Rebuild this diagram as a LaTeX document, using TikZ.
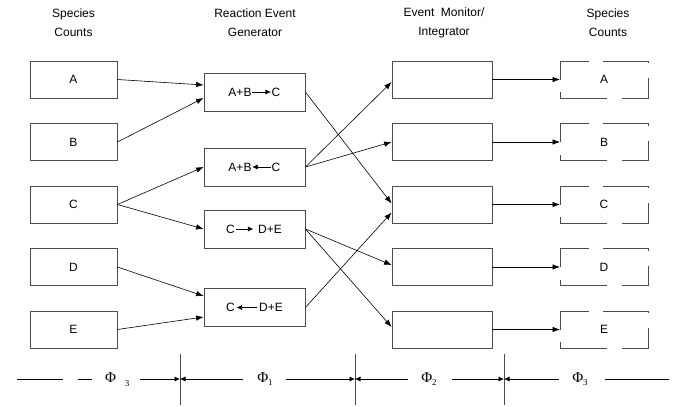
\documentclass[tikz,border=0pt]{standalone}
\usepackage{fontspec}
\setmainfont{Liberation Sans}
\newfontfamily\timesf{Liberation Serif}
\usetikzlibrary{arrows.meta,calc}
\newcommand{\phisym}[1]{{\timesf\fontsize{15}{15}\selectfont Φ\raisebox{-3pt}{\fontsize{9}{9}\selectfont #1}}}
\begin{document}
\begin{tikzpicture}[x=1pt,y=-1pt,
  every node/.style={font=\fontsize{12}{14}\selectfont},
  box/.style={draw=black!70, line width=0.8pt, minimum width=87pt, minimum height=37pt, inner sep=0pt},
  genbox/.style={box, minimum width=101pt, minimum height=38pt},
  monbox/.style={box, minimum width=100pt},
  conn/.style={line width=0.6pt, -{Latex[length=7.5pt,width=5.5pt]}},
  small/.style={line width=0.6pt, -{Latex[length=5.5pt,width=5pt]}},
  head/.style={align=center, font=\fontsize{12}{19}\selectfont},
  dbox/.style={draw=black!70, line width=0.8pt},
  plain/.style={line width=0.6pt},
  vline/.style={draw=black!70, line width=0.8pt},
  txt/.style={inner sep=0.5pt}
]
\useasboundingbox (0,0) rectangle (686,407);

% headers
\node[head] (h1) at (73.5,23) {Species\\Counts};
\node[head] (h2) at (255,23) {Reaction Event\\Generator};
\node[head] (h3) at (444,23) {Event~~Monitor/\\Integrator};
\node[head] (h4) at (608,23) {Species\\Counts};

% left species boxes, monitor boxes, right species boxes
\foreach \y/\l/\n in {79.5/A/1, 142/B/2, 204.5/C/3, 267/D/4, 329.5/E/5}{
  \node[box] (L\n) at (73.5,\y) {\l};
  \node[monbox] (M\n) at (442,\y) {};
  \coordinate (R\n) at (560,\y);
  \node (RT\n) at (604,\y) {\l};
  \draw[dbox] (R\n) -- (560,{\y-18.5}) -- (589,{\y-18.5});
  \draw[dbox] (603,{\y-18.5}) -- (648,{\y-18.5}) -- (648,{\y-16.5});
  \draw[dbox] (648,{\y-1.5}) -- (648,{\y+18.5}) -- (622,{\y+18.5});
  \draw[dbox] (607,{\y+18.5}) -- (560,{\y+18.5}) -- (560,{\y+12.5});
  \draw[conn] (M\n.east) -- (R\n);
}

% generator boxes
\node[genbox] (G1) at (254.5,92) {};
\node[genbox] (G2) at (254.5,167) {};
\node[genbox] (G3) at (254.5,229) {};
\node[genbox] (G4) at (254.5,307.5) {};

% reaction texts
\node[txt] (g1a) at (240,92) {A+B};
\node[txt] (g1b) at (276,92) {C};
\draw[small] (g1a.east) -- (g1b.west);
\node[txt] (g2a) at (240,167) {A+B};
\node[txt] (g2b) at (276,167) {C};
\draw[small] (g2b.west) -- (g2a.east);
\node[txt] (g3a) at (230.5,229) {C};
\node[txt] (g3b) at (270,229) {D+E};
\draw[small] (g3a.east) -- ([xshift=-4pt]g3b.west);
\node[txt] (g4a) at (230.5,307.5) {C};
\node[txt] (g4b) at (271,307.5) {D+E};
\draw[small] ([xshift=-1pt]g4b.west) -- ([xshift=1pt]g4a.east);

% species -> generator
\draw[conn] (L1.east) -- ([yshift=7pt]G1.west);
\draw[conn] (L2.east) -- ([yshift=-6pt]G1.west);
\draw[conn] (L3.east) -- (G2.west);
\draw[conn] (L3.east) -- (G3.west);
\draw[conn] (L4.east) -- ([yshift=11.5pt]G4.west);
\draw[conn] (L5.east) -- ([yshift=-9.5pt]G4.west);

% generator -> monitor
\draw[conn] (G1.east) -- ([yshift=1pt]M3.west);
\draw[conn] (G2.east) -- ([yshift=-2.5pt]M1.west);
\draw[conn] (G2.east) -- (M2.west);
\draw[conn] (G3.east) -- ([yshift=2pt]M4.west);
\draw[conn] (G3.east) -- ([yshift=2.5pt]M5.west);
\draw[conn] (G4.east) -- ([yshift=-8pt]M3.west);

% bottom phase axis
\coordinate (V1t) at (180,354); \coordinate (V1b) at (180,405);
\coordinate (V2t) at (355,354); \coordinate (V2b) at (355,405);
\coordinate (V3t) at (504,354); \coordinate (V3b) at (504,405);
\draw[vline] (V1t) -- (V1b);
\draw[vline] (V2t) -- (V2b);
\draw[vline] (V3t) -- (V3b);
\coordinate (V1) at (180,379);
\coordinate (V2) at (355,379);
\coordinate (V3) at (504,379);

\coordinate (a1) at (17,379); \coordinate (a2) at (63,379);
\coordinate (a3) at (78,379); \coordinate (a4) at (92,379);
\draw[plain] (a1) -- (a2);
\draw[plain] (a3) -- (a4);
\node[inner sep=0pt] (p0) at (110.5,378) {\timesf\fontsize{15}{15}\selectfont Φ};
\node[inner sep=0pt] (p0s) at (127,383.5) {\timesf\fontsize{9}{9}\selectfont 3};
\coordinate (a5) at (140,379);
\draw[small] (a5) -- (V1);

\coordinate (b1) at (243,379);
\draw[small] (b1) -- (V1);
\node[inner sep=0pt] (p1) at (265,379) {\phisym{1}};
\coordinate (b2) at (286,379);
\draw[small] (b2) -- (V2);

\coordinate (c1) at (408,379);
\draw[small] (c1) -- (V2);
\node[inner sep=0pt] (p2) at (429,379) {\phisym{2}};
\coordinate (c2) at (452,379);
\draw[small] (c2) -- (V3);

\coordinate (d1) at (559,379);
\draw[small] (d1) -- (V3);
\node[inner sep=0pt] (p3) at (580,379) {\phisym{3}};
\coordinate (d2) at (605,379);
\coordinate (d3) at (669,379);
\draw[plain] (d2) -- (d3);
\end{tikzpicture}
\end{document}
